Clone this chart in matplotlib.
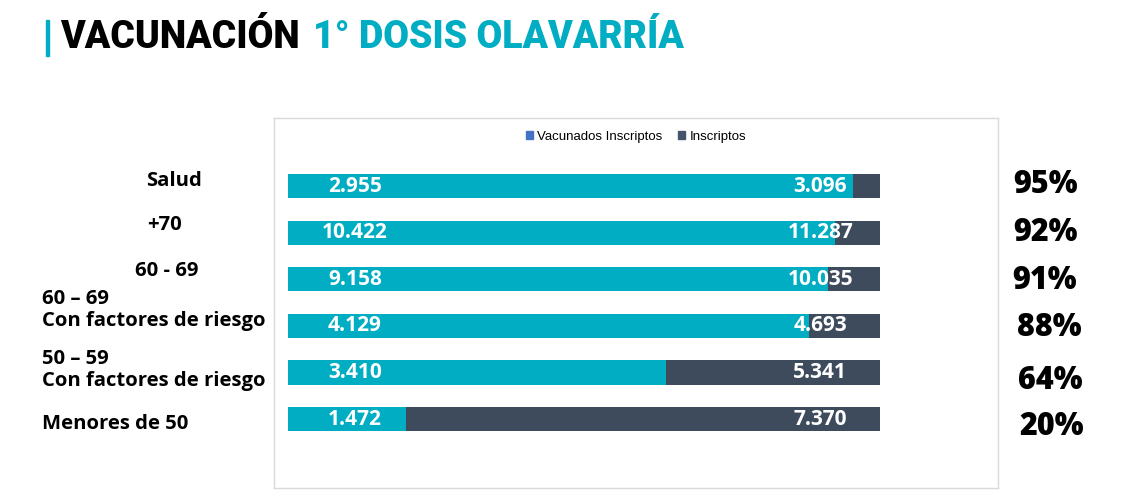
import matplotlib.pyplot as plt
from matplotlib.patches import Rectangle, Patch

# data
grupos = ["Salud", "+70", "60 - 69", "60 – 69\nCon factores de riesgo",
          "50 – 59\nCon factores de riesgo", "Menores de 50"]
vacunados = [2955, 10422, 9158, 4129, 3410, 1472]
inscriptos = [3096, 11287, 10035, 4693, 5341, 7370]

def fmt(n):
    return "{:,}".format(n).replace(",", ".")

TEAL = "#00ADC2"
DARK = "#3E4B5D"

W, H = 1121, 495
fig = plt.figure(figsize=(W / 100, H / 100), dpi=100)

def fx(px):
    return px / W

def fy(py):
    return 1 - py / H

# title
fig.patches.append(Rectangle((fx(46), fy(56)), fx(3), 36 / H, transform=fig.transFigure,
                             color=TEAL, zorder=5))
fig.text(fx(60), fy(38), "VACUNACIÓN", fontsize=27, fontweight="black",
         family="Roboto", color="black", va="center", ha="left")
fig.text(fx(313), fy(38), "1° DOSIS OLAVARRÍA", fontsize=27, fontweight="black",
         family="Roboto", color=TEAL, va="center", ha="left")

# chart box
ax = fig.add_axes([fx(274), fy(488), fx(998) - fx(274), (488 - 118) / H])
for s in ax.spines.values():
    s.set_color("#D9D9D9")
    s.set_linewidth(1)
ax.set_xticks([])
ax.set_yticks([])

pos = list(range(len(grupos)))
share = [v / i for v, i in zip(vacunados, inscriptos)]
ax.barh(pos, [1] * len(pos), height=0.52, color=DARK, zorder=1)
ax.barh(pos, share, height=0.52, color=TEAL, zorder=2)
ax.set_xlim(-0.0236, 1.199)
ax.set_ylim(6.48, -1.46)

for p, v, i in zip(pos, vacunados, inscriptos):
    ax.text(0.113, p, fmt(v), color="white", fontsize=15, fontweight="bold",
            family="Open Sans", ha="center", va="center", zorder=3)
    ax.text(0.899, p, fmt(i), color="white", fontsize=15, fontweight="bold",
            family="Open Sans", ha="center", va="center", zorder=3)

handles = [Patch(color="#4472C4", label="Vacunados Inscriptos"),
           Patch(color="#44546A", label="Inscriptos")]
ax.legend(handles=handles, loc="upper center", bbox_to_anchor=(0.5, 0.997), ncol=2,
          frameon=False, handlelength=0.55, handleheight=0.55,
          handletextpad=0.3, columnspacing=1.2,
          prop={"family": "Liberation Sans", "size": 9.5})

# left labels (pixel layout as in reference)
lab_x = [174, 165, 167, 42, 42, 42]
lab_y = [181, 225, 271, 310, 370, 424]
lab_ha = ["center", "center", "center", "left", "left", "left"]
for g, x, y, ha in zip(grupos, lab_x, lab_y, lab_ha):
    fig.text(fx(x), fy(y), g, fontsize=14.6, fontweight="bold", family="Open Sans",
             ha=ha, va="center", linespacing=1.1, multialignment="left")

# percentages
pct_x = [1046, 1045, 1045, 1049, 1050, 1052]
pct_y = [185, 233, 281, 328, 381, 427]
for s, x, y in zip(share, pct_x, pct_y):
    fig.text(fx(x), fy(y), "{:.0f}%".format(s * 100), fontsize=22, fontweight="heavy",
             family="Open Sans", ha="center", va="center")

fig.savefig("out.png", dpi=100)
